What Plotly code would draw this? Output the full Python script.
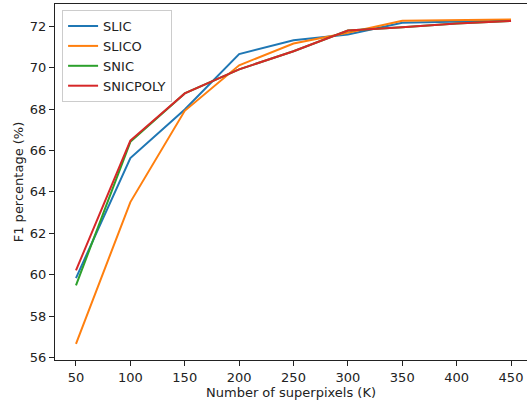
import plotly.graph_objects as go

# Number of superpixels (K) on the x axis
superpixels = [50, 100, 150, 200, 250, 300, 350, 400, 450]

# F1 percentage per method
slic = [59.84, 65.64, 67.98, 70.66, 71.33, 71.61, 72.17, 72.24, 72.28]
slico = [56.66, 63.51, 67.92, 70.12, 71.17, 71.69, 72.27, 72.31, 72.33]
snic = [59.49, 66.42, 68.76, 69.92, 70.80, 71.80, 71.96, 72.14, 72.26]
snicpoly = [60.21, 66.48, 68.76, 69.92, 70.80, 71.80, 71.96, 72.14, 72.26]

series = [
    ("SLIC", slic, "#1f77b4"),
    ("SLICO", slico, "#ff7f0e"),
    ("SNIC", snic, "#2ca02c"),
    ("SNICPOLY", snicpoly, "#d62728"),
]

x_ticks = [50, 100, 150, 200, 250, 300, 350, 400, 450]
y_ticks = [56, 58, 60, 62, 64, 66, 68, 70, 72]

FONT = "DejaVu Sans"
SIZE = 13

fig = go.Figure()
for name, values, color in series:
    fig.add_trace(go.Scatter(
        x=superpixels, y=values, mode="lines", name=name,
        line=dict(color=color, width=2),
    ))

fig.update_layout(
    width=527, height=406,
    margin=dict(l=55, r=0, t=4, b=46),
    paper_bgcolor="white", plot_bgcolor="white",
    font=dict(family=FONT, size=SIZE, color="#222"),
    showlegend=True,
    legend=dict(
        x=0.015, y=0.983, xanchor="left", yanchor="top",
        bgcolor="rgba(255,255,255,0.8)", bordercolor="#cccccc", borderwidth=1,
        font=dict(family=FONT, size=SIZE, color="#222"),
        tracegroupgap=0,
    ),
)

fig.update_xaxes(
    range=[30.7, 464.7], tickvals=x_ticks, ticktext=[str(v) for v in x_ticks],
    showgrid=False, zeroline=False,
    showline=True, linecolor="#222", linewidth=1, mirror=True,
    ticks="outside", ticklen=5, tickwidth=1, tickcolor="#222",
    title=dict(text="Number of superpixels (K)", standoff=4,
               font=dict(family=FONT, size=SIZE, color="#222")),
)
fig.update_yaxes(
    range=[55.88, 73.08], tickvals=y_ticks, ticktext=[str(v) for v in y_ticks],
    showgrid=False, zeroline=False,
    showline=True, linecolor="#222", linewidth=1, mirror=False,
    ticks="outside", ticklen=5, tickwidth=1, tickcolor="#222",
    title=dict(text="F1 percentage (%)", standoff=3,
               font=dict(family=FONT, size=SIZE, color="#222")),
)

fig.write_html("out.html")
